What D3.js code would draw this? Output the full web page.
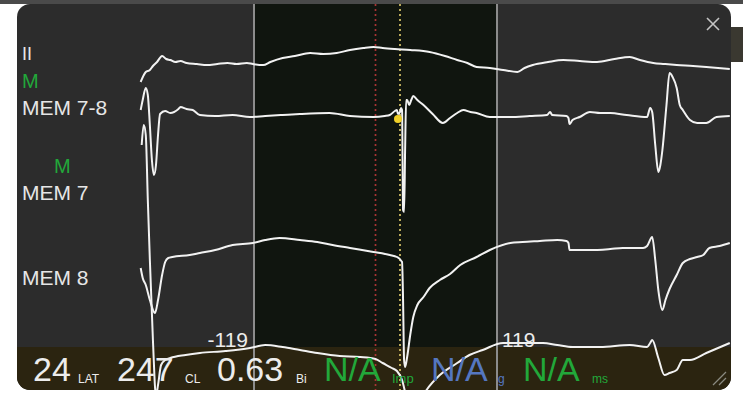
<!DOCTYPE html>
<html><head><meta charset="utf-8">
<script src="https://cdn.jsdelivr.net/npm/d3@7"></script>
<style>html,body{margin:0;padding:0;background:#fff;overflow:hidden}svg{display:block}</style>
</head><body>
<svg id="chart" width="743" height="394"></svg>
<script>
// ---- data (time in ms relative to reference, amplitude in mV) ----
const windowMs = [-119, 119];
const latMs = 24;
const leadII = [[-230,-0.17],[-225,-0.07],[-221,-0.05],[-218,-0.01],[-214,0.03],[-209,0.09],[-205,0.06],[-201,0.05],[-196,0.03],[-191,0.04],[-185,0.02],[-175,0.01],[-165,0.00],[-155,0.01],[-145,0.02],[-136,0.01],[-126,0.02],[-120,0.01],[-110,0.00],[-103,0.03],[-91,0.07],[-79,0.09],[-64,0.12],[-51,0.11],[-38,0.12],[-25,0.15],[-12,0.17],[-2,0.18],[7,0.17],[19,0.16],[34,0.15],[53,0.13],[68,0.09],[80,0.05],[90,0.02],[99,-0.02],[112,-0.03],[125,-0.05],[139,-0.07],[146,-0.03],[154,0.00],[169,0.03],[184,0.05],[200,0.04],[217,0.03],[234,0.06],[249,0.08],[259,0.05],[272,0.02],[283,0.01],[295,0.00],[311,-0.01],[324,-0.02],[347,-0.04]];
const mem78 = [[-230,0.05],[-228,0.15],[-225,0.27],[-223,0.20],[-221,-0.10],[-219,-0.45],[-217,-0.60],[-215,-0.50],[-213,-0.20],[-211,0.01],[-206,0.04],[-201,0.02],[-193,0.06],[-191,0.08],[-185,0.06],[-179,0.05],[-172,0.00],[-157,-0.01],[-140,0.00],[-123,-0.02],[-108,-0.01],[-91,0.00],[-74,0.01],[-45,0.02],[-25,-0.01],[-2,-0.02],[9,-0.01],[14,0.00],[19,0.04],[21,0.05],[22,0.01],[24,0.03],[25,0.07],[26,0.05],[27,-0.95],[28,-0.97],[29,-0.35],[30,0.15],[31,0.15],[33,0.10],[35,0.15],[37,0.19],[41,0.15],[47,0.10],[56,0.01],[66,-0.08],[73,-0.03],[80,0.02],[86,0.05],[93,0.03],[99,0.02],[112,-0.02],[132,-0.02],[151,-0.01],[168,0.00],[171,0.03],[173,0.00],[187,-0.01],[189,-0.03],[190,-0.09],[193,-0.05],[200,-0.02],[210,0.03],[220,0.02],[230,0.02],[246,0.00],[266,-0.02],[269,0.07],[271,0.03],[274,-0.30],[277,-0.57],[279,-0.50],[281,-0.35],[285,0.10],[288,0.42],[291,0.38],[295,0.27],[298,0.10],[301,0.05],[308,-0.05],[315,-0.08],[324,-0.08],[334,-0.02],[347,-0.01]];
const mem7 = [[-230,-0.23],[-228,-0.33],[-225,-0.40],[-221,-0.55],[-216,-0.68],[-213,-0.55],[-209,-0.30],[-206,-0.17],[-203,-0.13],[-199,-0.12],[-182,-0.10],[-172,-0.08],[-157,-0.05],[-140,0.00],[-120,0.02],[-108,0.05],[-94,0.07],[-74,0.05],[-57,0.03],[-42,0.00],[-25,-0.03],[-2,-0.07],[14,-0.10],[21,-0.12],[26,-0.17],[27,-0.55],[28,-1.15],[29,-1.22],[31,-1.12],[34,-0.90],[37,-0.72],[41,-0.60],[47,-0.52],[53,-0.43],[63,-0.35],[73,-0.29],[83,-0.20],[99,-0.12],[112,-0.05],[132,0.02],[144,0.03],[161,0.04],[178,0.05],[187,0.04],[189,0.02],[190,-0.05],[210,-0.05],[230,-0.04],[242,-0.03],[262,-0.03],[266,-0.01],[271,0.08],[274,-0.15],[277,-0.45],[281,-0.65],[284,-0.55],[288,-0.44],[295,-0.30],[301,-0.18],[308,-0.14],[315,-0.12],[321,-0.10],[327,-0.03],[337,-0.01],[347,0.02]];
const mem8 = [[-229,2.02],[-227,2.22],[-225,2.12],[-223,1.47],[-221,0.87],[-218,0.07],[-215,-0.49],[-213,-0.38],[-210,-0.18],[-206,-0.13],[-201,-0.11],[-186,-0.08],[-172,-0.06],[-147,-0.04],[-123,-0.01],[-108,0.02],[-91,0.00],[-74,-0.03],[-57,-0.06],[-35,-0.09],[-15,-0.10],[0,-0.12],[7,-0.16],[16,-0.21],[21,-0.24],[26,-0.33],[31,-0.53],[37,-0.63],[44,-0.53],[50,-0.43],[63,-0.28],[80,-0.16],[92,-0.08],[105,-0.03],[125,0.04],[146,0.04],[164,0.04],[178,0.02],[193,0.00],[220,0.00],[249,0.02],[266,0.00],[269,0.04],[271,0.07],[277,-0.11],[283,-0.28],[288,-0.26],[295,-0.23],[301,-0.13],[308,-0.13],[324,-0.06],[347,0.04]];
const channelLabels = ["II","MEM 7-8","MEM 7","MEM 8"];
const windowLabels = ["-119","119"];
const barTexts = ["24","LAT","247","CL","0.63","Bi","N/A","Imp","N/A","g","N/A","ms"];

// ---- layout ----
const svg = d3.select("#chart");
const P = {x0:17, x1:731, y0:4, y1:390};
const FONT = "'Liberation Sans', Arial, sans-serif";

svg.append("rect").attr("width",743).attr("height",394).attr("fill","#ffffff");
svg.append("rect").attr("x",0).attr("y",0).attr("width",743).attr("height",4).attr("fill","#4a4a4a");
svg.append("rect").attr("x",729).attr("y",27).attr("width",14).attr("height",35).attr("fill","#3a3830");

const defs = svg.append("defs");
defs.append("clipPath").attr("id","pclip").append("rect")
  .attr("x",P.x0).attr("y",P.y0).attr("width",P.x1-P.x0).attr("height",P.y1-P.y0).attr("rx",13);

svg.append("rect").attr("x",P.x0).attr("y",P.y0).attr("width",P.x1-P.x0).attr("height",P.y1-P.y0)
  .attr("rx",13).attr("fill","#2c2c2c");

const g = svg.append("g").attr("clip-path","url(#pclip)");

const x = d3.scaleLinear().domain(windowMs).range([254, 497]);

// window region
g.append("rect").attr("x",x(windowMs[0])).attr("y",P.y0).attr("width",x(windowMs[1])-x(windowMs[0]))
  .attr("height",P.y1-P.y0).attr("fill","#10150f");
// bottom bar
g.append("rect").attr("x",P.x0).attr("y",347).attr("width",P.x1-P.x0).attr("height",P.y1-347).attr("fill","#2b2410");

// window borders
windowMs.forEach(t=>{
  g.append("line").attr("x1",x(t)).attr("x2",x(t)).attr("y1",P.y0).attr("y2",P.y1)
    .attr("stroke","#8c8c8c").attr("stroke-width",2);
});
// reference (red) and LAT (yellow) dotted lines
g.append("line").attr("x1",x(0)).attr("x2",x(0)).attr("y1",P.y0).attr("y2",P.y1)
  .attr("stroke","#a83434").attr("stroke-width",1.7).attr("stroke-dasharray","2,3");
g.append("line").attr("x1",x(latMs)).attr("x2",x(latMs)).attr("y1",P.y0).attr("y2",P.y1)
  .attr("stroke","#d8c468").attr("stroke-width",1.7).attr("stroke-dasharray","2,3");

// traces
const baselines = [65,115,245,347];
const series = [leadII, mem78, mem7, mem8];
series.forEach((data,i)=>{
  const y = d3.scaleLinear().domain([-1,1]).range([baselines[i]+100, baselines[i]-100]);
  const line = d3.line().x(d=>x(d[0])).y(d=>y(d[1])).curve(d3.curveMonotoneX);
  g.append("path").datum(data).attr("d",line).attr("fill","none")
    .attr("stroke","#f2f2f2").attr("stroke-width",2).attr("stroke-linejoin","round");
});
// LAT marker on MEM 7-8
{
  const y = d3.scaleLinear().domain([-1,1]).range([215, 15]);
  g.append("circle").attr("cx",x(22)).attr("cy",y(-0.04)).attr("r",4).attr("fill","#f0d028");
}

// channel labels
const lab = [
  {t:channelLabels[0],x:22,y:60,s:18,c:"#e6e6e6"},
  {t:"M",x:22,y:88,s:20,c:"#22a83a"},
  {t:channelLabels[1],x:22,y:115,s:21,c:"#e6e6e6"},
  {t:"M",x:54,y:173,s:20,c:"#22a83a"},
  {t:channelLabels[2],x:22,y:200,s:21,c:"#e6e6e6"},
  {t:channelLabels[3],x:22,y:285,s:21,c:"#e6e6e6"}
];
lab.forEach(d=>{
  g.append("text").attr("x",d.x).attr("y",d.y).attr("font-family",FONT).attr("font-size",d.s)
    .attr("fill",d.c).text(d.t);
});
// window labels
g.append("text").attr("x",x(windowMs[0])-6).attr("y",347).attr("text-anchor","end").attr("font-family",FONT)
  .attr("font-size",21).attr("fill","#ececec").text(windowLabels[0]);
g.append("text").attr("x",x(windowMs[1])+5).attr("y",347).attr("font-family",FONT)
  .attr("font-size",21).attr("fill","#ececec").text(windowLabels[1]);

// bottom bar readouts
const W="#ececec", GR="#22a83a", BL="#5577c0";
const bt = [
  {x:33,s:34,c:W},{x:78,s:12,c:W},{x:117,s:34,c:W},{x:185,s:12,c:W},{x:217,s:34,c:W},{x:296,s:12,c:W},
  {x:324,s:34,c:GR},{x:392,s:13,c:GR},{x:431,s:34,c:BL},{x:498,s:12,c:BL},{x:523,s:34,c:GR},{x:592,s:12,c:GR}
];
bt.forEach((d,i)=>{
  g.append("text").attr("x",d.x).attr("y",d.s>20?381:383).attr("font-family",FONT).attr("font-size",d.s)
    .attr("fill",d.c).text(barTexts[i]);
});

// close button
svg.append("path").attr("d","M707,18L719,30M719,18L707,30").attr("stroke","#c4c4c4").attr("stroke-width",1.6);
// resize grip
svg.append("path").attr("d","M713,385L726,372M719,385L726,378").attr("stroke","#8a8a80").attr("stroke-width",1.3);
</script>
</body></html>
